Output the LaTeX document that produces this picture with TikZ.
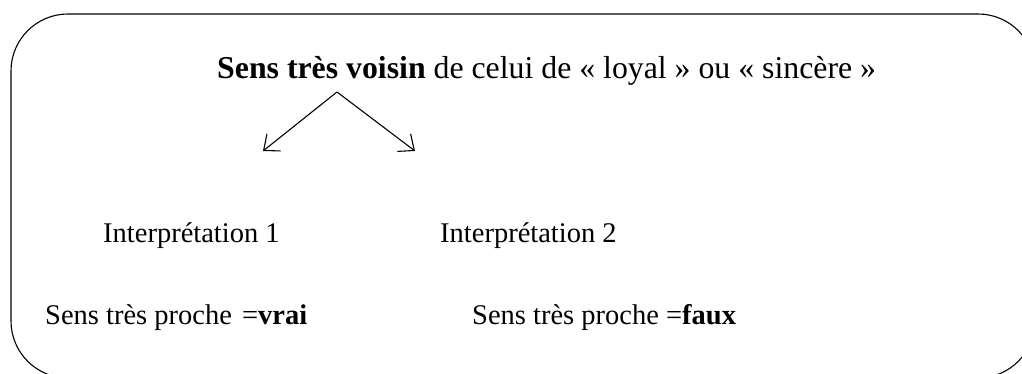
\documentclass[tikz,border=0pt]{standalone}
\usepackage{fontspec}
\setmainfont{Liberation Serif}
\usetikzlibrary{arrows.meta, positioning}

\begin{document}
\begin{tikzpicture}[x=1pt, y=1pt,
    >={Straight Barb[length=13pt, width=22pt]},
    every node/.style={inner sep=0pt,
                       anchor=base west,
                       font=\fontsize{28.5}{34}\selectfont}]

  \useasboundingbox (0,0) rectangle (1022,374);

  % Frame with rounded corners
  \draw[line width=1.1pt, rounded corners=57pt] (11,-4) rectangle (1035,360);

  % Heading line
  \node (Sens) at (217,295) [font=\fontsize{31.8}{38}\selectfont]
        {\textbf{Sens très voisin} de celui de « loyal » ou « sincère »};

  % Two readings
  \node (InterpA) at (103,131) {Interprétation 1};
  \node (InterpB) at (440,131) {Interprétation 2};

  \node (ProcheA) at (45,49) {Sens très proche~\hspace{3pt}=\textbf{vrai}};
  \node (ProcheB) at (472,49) {Sens très proche =\textbf{faux}};

  % Branching arrows
  \coordinate (Apex) at (337,282);
  \coordinate (TipA) at (263,223);
  \coordinate (TipB) at (415,223);
  \draw[->, line width=1.1pt] (Apex) -- (TipA);
  \draw[->, line width=1.1pt] (Apex) -- (TipB);

\end{tikzpicture}
\end{document}
